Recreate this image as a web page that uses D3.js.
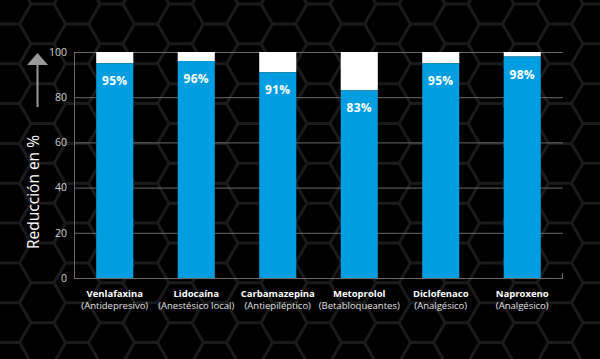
<!DOCTYPE html>
<html><head><meta charset="utf-8">
<script src="https://cdn.jsdelivr.net/npm/d3@7"></script>
<style>html,body{margin:0;padding:0;background:#000;}svg{display:block;}</style>
</head><body>
<svg id="c" width="600" height="359"></svg>
<script>
const drugs = ["Venlafaxina","Lidocaína","Carbamazepina","Metoprolol","Diclofenaco","Naproxeno"];
const classes = ["(Antidepresivo)","(Anestésico local)","(Antiepiléptico)","(Betabloqueantes)","(Analgésico)","(Analgésico)"];
const values = [95,96,91,83,95,98];
const yTicks = [0,20,40,60,80,100];
const yLabel = "Reducción en %";

const W=600,H=359;
const svg=d3.select("#c");
svg.append("rect").attr("width",W).attr("height",H).attr("fill","#000");

// hex background
const R=23, hh=Math.sqrt(3)*R;
const hexPath=(cx,cy)=>{let p="";for(let i=0;i<6;i++){const a=Math.PI/3*i;p+=(i?"L":"M")+(cx+R*Math.cos(a))+","+(cy+R*Math.sin(a));}return p+"Z";};
const bg=svg.append("g");
let d="";
for(let c=-1;c<W/(1.5*R)+2;c++){for(let r=-1;r<H/hh+2;r++){const cx=c*1.5*R+8, cy=r*hh+(c%2?hh/2:0)+4;d+=hexPath(cx,cy);}}
bg.append("path").attr("d",d).attr("fill","none").attr("stroke","#1b1b1b").attr("stroke-width",3);

const m={l:74,r:563,t:52,b:278};
const x=d3.scaleBand().domain(drugs).range([m.l,m.r]).paddingInner(0.545).paddingOuter(0.2725);
const y=d3.scaleLinear().domain([0,100]).range([m.b,m.t]);

// grid
const g=svg.append("g");
g.selectAll("line.grid").data(yTicks).join("line")
 .attr("x1",m.l).attr("x2",m.r).attr("y1",d=>y(d)+0.5).attr("y2",d=>y(d)+0.5)
 .attr("stroke","#6a6a6a").attr("stroke-width",1);
g.append("line").attr("x1",m.l+0.5).attr("x2",m.l+0.5).attr("y1",m.t).attr("y2",m.b).attr("stroke","#6a6a6a");
g.append("line").attr("x1",m.r-0.5).attr("x2",m.r-0.5).attr("y1",m.b-5).attr("y2",m.b).attr("stroke","#6a6a6a");

// y ticks
const yAxis=svg.append("g").attr("transform",`translate(${m.l},0)`)
 .call(d3.axisLeft(y).tickValues(yTicks).tickSize(0).tickPadding(7));
yAxis.select(".domain").remove();
yAxis.selectAll("text").attr("fill","#d0d0d0").style("font-family","'Open Sans',sans-serif").style("font-size","10.5px");

// bars
const bars=svg.append("g").selectAll("g").data(values).join("g");
bars.append("rect").attr("x",(d,i)=>x(drugs[i])).attr("width",x.bandwidth())
 .attr("y",y(100)).attr("height",d=>y(d)-y(100)).attr("fill","#ffffff");
bars.append("rect").attr("x",(d,i)=>x(drugs[i])).attr("width",x.bandwidth())
 .attr("y",d=>y(d)).attr("height",d=>y(0)-y(d)).attr("fill","#009ee0");
bars.append("text").attr("x",(d,i)=>x(drugs[i])+x.bandwidth()/2).attr("y",d=>y(d)+22)
 .attr("text-anchor","middle").attr("fill","#fff").style("font-family","'Open Sans',sans-serif")
 .style("font-weight","700").style("font-size","12px").style("letter-spacing","0.3px").text(d=>d+"%");

// category labels
const cl=svg.append("g").selectAll("g").data(drugs).join("g")
 .attr("transform",d=>`translate(${x(d)+x.bandwidth()/2},0)`);
cl.append("text").attr("y",297).attr("text-anchor","middle").attr("fill","#fff")
 .style("font-family","'Open Sans',sans-serif").style("font-weight","700").style("font-size","9.5px").text(d=>d);
cl.append("text").attr("y",309).attr("text-anchor","middle").attr("fill","#e0e0e0")
 .style("font-family","'Open Sans',sans-serif").style("font-size","9.5px").text((d,i)=>classes[i]);

// y label & arrow
svg.append("text").attr("transform","translate(39,192) rotate(-90)").attr("text-anchor","middle")
 .attr("fill","#fff").style("font-family","'Open Sans',sans-serif").style("font-size","15.5px").text(yLabel);
svg.append("line").attr("x1",37.5).attr("x2",37.5).attr("y1",107).attr("y2",64).attr("stroke","#999").attr("stroke-width",2);
svg.append("path").attr("d","M37.5,53L48,65L27,65Z").attr("fill","#999");
</script>
</body></html>
